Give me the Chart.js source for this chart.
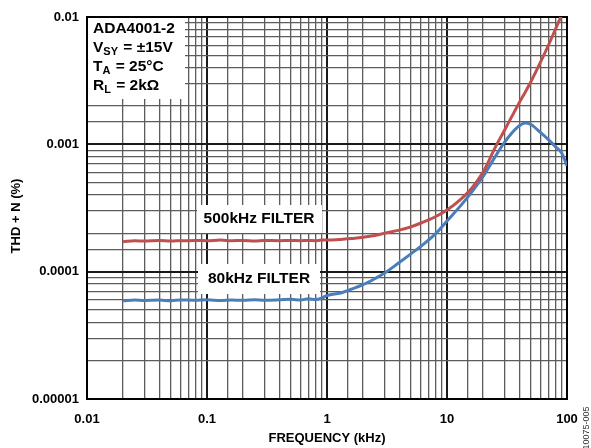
<!DOCTYPE html>
<html>
<head>
<meta charset="utf-8">
<script src="https://cdn.jsdelivr.net/npm/chart.js@4"></script>
<style>
  html, body { margin: 0; padding: 0; background: #fff; }
  #wrap { width: 591px; height: 448px; position: relative; }
</style>
</head>
<body>
<div id="wrap"><canvas id="thdChart"></canvas></div>
<script>
// Frequency points (kHz)
const freqs = [0.02, 0.025, 0.03, 0.04, 0.05, 0.06, 0.08, 0.1, 0.13, 0.16, 0.2, 0.25, 0.3, 0.4, 0.5, 0.6, 0.7, 0.8, 0.9,
  1, 1.3, 1.6, 2, 2.5, 3, 4, 5, 6, 8, 10, 13, 16, 20, 25, 30, 35, 40, 45, 50, 60, 70, 80, 90, 100];

// THD + N (%) with 500kHz filter
const filter500 = [0.000172, 0.000175, 0.000174, 0.000176, 0.000174, 0.000175, 0.000176, 0.000175, 0.000177, 0.000175,
  0.000176, 0.000174, 0.000176, 0.000175, 0.000176, 0.000175, 0.000176, 0.000175, 0.000177,
  0.000177, 0.000179, 0.000182, 0.000186, 0.000192, 0.0002, 0.000212, 0.000225, 0.00024, 0.00027, 0.000305,
  0.00037, 0.00045, 0.000605, 0.00093, 0.00128, 0.00168, 0.00212, 0.00258, 0.0031, 0.0044, 0.0060, 0.0080, 0.0103, 0.013];

// THD + N (%) with 80kHz filter
const filter80 = [0.0000590, 0.0000600, 0.0000595, 0.0000598, 0.0000592, 0.0000600, 0.0000596, 0.0000601, 0.0000594, 0.0000599,
  0.0000596, 0.0000602, 0.0000597, 0.0000601, 0.0000606, 0.0000600, 0.0000612, 0.0000604, 0.0000618,
  0.000065, 0.000068, 0.000073, 0.000079, 0.000088, 0.000097, 0.000118, 0.000138, 0.000157, 0.000198, 0.00025,
  0.00033, 0.00042, 0.00056, 0.00079, 0.00103, 0.00124, 0.00140, 0.00147, 0.00143, 0.00124, 0.00109, 0.00096, 0.00086, 0.00068];

const xTickLabels = ['0.01', '0.1', '1', '10', '100'];
const yTickLabels = ['0.00001', '0.0001', '0.001', '0.01'];

const FONT = '"Liberation Sans", Arial, sans-serif';

function isDecade(v) {
  const l = Math.log10(v);
  return Math.abs(l - Math.round(l)) < 1e-6;
}

function toPoints(ys) {
  return freqs.map((f, i) => ({ x: f, y: ys[i] }));
}

// white boxes, notes, frame and y title
const notesPlugin = {
  id: 'notes',
  beforeDatasetsDraw(chart) {
    const c = chart.ctx;
    const a = chart.chartArea;
    c.save();
    c.fillStyle = '#fff';
    c.fillRect(a.left + 1, a.top + 1, 97, 81);
    c.fillRect(197, 205, 125, 28);
    c.fillRect(198, 264, 122, 30);

    c.fillStyle = '#000';
    c.textBaseline = 'middle';
    c.textAlign = 'center';
    c.font = 'bold 15.5px ' + FONT;
    c.fillText('500kHz FILTER', 259, 219);
    c.fillText('80kHz FILTER', 259, 279);

    // condition box text
    c.textAlign = 'left';
    const x0 = a.left + 6;
    c.fillText('ADA4001-2', x0, 29);
    const sub = (main, s, rest, y) => {
      c.font = 'bold 15.5px ' + FONT;
      c.fillText(main, x0, y);
      let x = x0 + c.measureText(main).width;
      c.font = 'bold 11px ' + FONT;
      c.fillText(s, x, y + 4);
      x += c.measureText(s).width + 1;
      c.font = 'bold 15.5px ' + FONT;
      c.fillText(rest, x, y);
    };
    sub('V', 'SY', ' = ±15V', 48);
    sub('T', 'A', ' = 25°C', 67);
    sub('R', 'L', ' = 2kΩ', 86);

    c.strokeStyle = '#000';
    c.lineWidth = 2;
    c.strokeRect(a.left, a.top, a.right - a.left, a.bottom - a.top);

    // y axis title
    c.save();
    c.translate(16, 216);
    c.rotate(-Math.PI / 2);
    c.textAlign = 'center';
    c.font = 'bold 13px ' + FONT;
    c.fillText('THD + N (%)', 0, 0);
    c.restore();

    // figure number at right edge
    c.translate(587, 428);
    c.rotate(-Math.PI / 2);
    c.font = '9px ' + FONT;
    c.fillStyle = '#333';
    c.textAlign = 'center';
    c.fillText('10075-005', 0, 0);
    c.restore();
  }
};

const gridOpts = {
  color: ctx => (ctx.tick && isDecade(ctx.tick.value)) ? '#1a1a1a' : '#5c5c5c',
  lineWidth: ctx => (ctx.tick && isDecade(ctx.tick.value)) ? 2 : 1.3,
  drawTicks: false
};

const ctx = document.getElementById('thdChart').getContext('2d');
const thdChart = new Chart(ctx, {
  type: 'line',
  data: {
    datasets: [{
      label: '500kHz FILTER',
      data: toPoints(filter500),
      borderColor: '#c0504d',
      borderWidth: 3,
      pointRadius: 0,
      cubicInterpolationMode: 'monotone',
      fill: false
    }, {
      label: '80kHz FILTER',
      data: toPoints(filter80),
      borderColor: '#4a7ebb',
      borderWidth: 3,
      pointRadius: 0,
      cubicInterpolationMode: 'monotone',
      fill: false
    }]
  },
  options: {
    responsive: true,
    maintainAspectRatio: false,
    animation: false,
    layout: { padding: { top: 17, right: 24, left: 0, bottom: 0 } },
    plugins: { legend: { display: false }, tooltip: { enabled: false } },
    scales: {
      x: {
        type: 'logarithmic',
        min: 0.01,
        max: 100,
        grid: gridOpts,
        border: { display: true, color: '#000', width: 2 },
        afterFit: s => { s.height = 49; },
        ticks: {
          autoSkip: false,
          maxRotation: 0,
          padding: 13,
          color: '#000',
          font: { family: FONT, size: 13, weight: 'bold' },
          callback: v => isDecade(v) ? xTickLabels[Math.round(Math.log10(v)) + 2] : ''
        },
        title: {
          display: true,
          text: 'FREQUENCY (kHz)',
          color: '#000',
          font: { family: FONT, size: 13, weight: 'bold' },
          padding: { top: 0, bottom: 2 }
        }
      },
      y: {
        type: 'logarithmic',
        min: 0.00001,
        max: 0.01,
        grid: gridOpts,
        border: { display: true, color: '#000', width: 2 },
        afterFit: s => { s.width = 87; },
        ticks: {
          autoSkip: false,
          padding: 8,
          color: '#000',
          font: { family: FONT, size: 13, weight: 'bold' },
          callback: v => isDecade(v) ? yTickLabels[Math.round(Math.log10(v)) + 5] : ''
        },
        title: { display: false }
      }
    }
  },
  plugins: [notesPlugin]
});
</script>
</body>
</html>
